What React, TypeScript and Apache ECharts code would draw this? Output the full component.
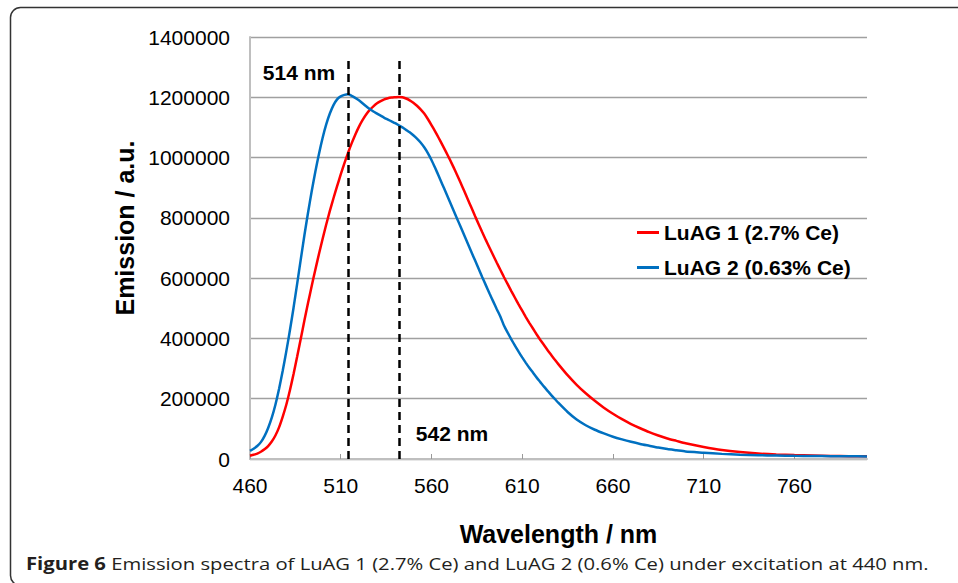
import React, { useEffect, useRef } from "react";
import * as echarts from "echarts";

// Wavelength grid (nm)
const wavelength = [
  460, 462, 464, 466, 468, 470, 472, 474, 476, 478, 480, 482, 484, 486, 488, 490, 492, 494, 496, 498,
  500, 502, 504, 506, 508, 510, 512, 514, 516, 518, 520, 522, 524, 526, 528, 530, 532, 534, 536, 538,
  540, 542, 544, 546, 548, 550, 552, 554, 556, 558, 560, 562, 564, 566, 568, 570, 572, 574, 576, 578,
  580, 582, 584, 586, 588, 590, 592, 594, 596, 598, 600, 602, 604, 606, 608, 610, 612, 614, 616, 618,
  620, 622, 624, 626, 628, 630,
  635, 640, 645, 650, 655, 660, 665, 670, 675, 680, 685, 690, 695, 700,
  710, 720, 730, 740, 750, 760, 770, 780, 790, 800,
];

// LuAG 1 (2.7% Ce) emission
const luag1 = [
  11000, 14000, 18000, 24000, 32000, 43000, 58000, 78000, 105000, 140000,
  180000, 228000, 282000, 340000, 400000, 460000, 518000, 574000, 628000, 680000,
  730000, 778000, 823000, 865000, 905000, 944000, 981000, 1015000, 1047000, 1076000,
  1102000, 1124000, 1143000, 1158000, 1170000, 1180000, 1187000, 1193000, 1197000, 1199000,
  1200000, 1201000, 1200000, 1196000, 1190000, 1182000, 1172000, 1160000, 1146000, 1128000,
  1108000, 1087000, 1065000, 1042000, 1019000, 995000, 970000, 944000, 917000, 890000,
  862000, 834000, 806000, 779000, 752000, 726000, 701000, 676000, 651000, 627000,
  603000, 580000, 557000, 535000, 513000, 492000, 471000, 451000, 432000, 413000,
  395000, 378000, 361000, 345000, 329000, 314000,
  278000, 246000, 218000, 193000, 170000, 150000, 132000, 116000, 102000, 89000, 78000, 68000, 60000, 52000,
  40000, 30000, 23000, 18000, 15000, 13000, 11500, 10000, 9500, 9000,
];

// LuAG 2 (0.63% Ce) emission
const luag2 = [
  27000, 34000, 43000, 56000, 76000, 103000, 137000, 180000, 232000, 292000,
  357000, 427000, 502000, 582000, 663000, 743000, 818000, 888000, 953000, 1012000,
  1065000, 1110000, 1146000, 1174000, 1193000, 1203000, 1208000, 1210000, 1205000, 1198000,
  1190000, 1180000, 1170000, 1161000, 1153000, 1146000, 1139000, 1132000, 1126000, 1120000,
  1114000, 1107000, 1100000, 1092000, 1084000, 1074000, 1063000, 1050000, 1034000, 1015000,
  992000, 966000, 939000, 911000, 883000, 855000, 827000, 799000, 771000, 743000,
  715000, 687000, 659000, 631000, 603000, 576000, 549000, 523000, 497000, 472000,
  442000, 419000, 397000, 376000, 356000, 337000, 319000, 302000, 286000, 270000,
  255000, 240000, 226000, 212000, 199000, 186000,
  156000, 131000, 112000, 97000, 85000, 74000, 65000, 57000, 50000, 44000, 38000, 33000, 29000, 25000,
  21000, 17000, 14500, 12500, 11500, 10500, 10000, 9500, 9000, 8500,
];

const seriesNames = ["LuAG 1 (2.7% Ce)", "LuAG 2 (0.63% Ce)"];
const seriesColors = ["#ff0000", "#0070c0"];
const peakWavelengths = [514, 542];
const peakLabels = ["514 nm", "542 nm"];
const peakLineTop = 1336000;
const xTitle = "Wavelength / nm";
const yTitle = "Emission / a.u.";
const captionBold = "Figure 6";
const captionRest =
  " Emission spectra of LuAG 1 (2.7% Ce) and LuAG 2 (0.6% Ce) under excitation at 440 nm.";

const FONT = "'Liberation Sans', Arial, Helvetica, sans-serif";
const CAPFONT = "'Open Sans', 'Noto Sans', sans-serif";

export default function App() {
  const ref = useRef<HTMLDivElement>(null);

  useEffect(() => {
    if (!ref.current) return;
    const chart = echarts.init(ref.current, null, { renderer: "svg" });

    const makeData = (vals: number[]) => wavelength.map((w, i) => [w, vals[i]]);

    const option: any = {
      animation: false,
      backgroundColor: "#ffffff",
      grid: { left: 250, right: 91, top: 37, bottom: 124, containLabel: false },
      legend: {
        orient: "vertical",
        left: 637,
        top: 222,
        padding: 0,
        itemGap: 14,
        itemWidth: 22,
        itemHeight: 3,
        icon: "rect",
        data: seriesNames,
        textStyle: { fontFamily: FONT, fontSize: 21, fontWeight: "bold", color: "#000" },
      },
      xAxis: {
        type: "value",
        min: 460,
        max: 800,
        interval: 50,
        name: xTitle,
        nameLocation: "middle",
        nameGap: 62,
        nameTextStyle: { fontFamily: FONT, fontSize: 25, fontWeight: "bold", color: "#000" },
        axisLine: { show: true, lineStyle: { color: "#bfbfbf", width: 2 } },
        axisTick: { show: true, inside: true, length: 5, lineStyle: { color: "#999", width: 1 } },
        axisLabel: {
          fontFamily: FONT,
          fontSize: 21,
          color: "#000",
          margin: 16,
          showMaxLabel: false,
        },
        splitLine: { show: false },
      },
      yAxis: {
        type: "value",
        min: 0,
        max: 1400000,
        interval: 200000,
        axisLine: { show: true, lineStyle: { color: "#bfbfbf", width: 2 } },
        axisTick: { show: false },
        axisLabel: {
          fontFamily: FONT,
          fontSize: 21,
          color: "#000",
          margin: 20,
          formatter: (v: number) => String(v),
        },
        splitLine: { show: true, lineStyle: { color: "#a0a0a0", width: 1.3 } },
      },
      series: [
        {
          name: seriesNames[0],
          type: "line",
          data: makeData(luag1),
          showSymbol: false,
          smooth: 0.2,
          color: seriesColors[0],
          lineStyle: { color: seriesColors[0], width: 2.5 },
          z: 2,
        },
        {
          name: seriesNames[1],
          type: "line",
          data: makeData(luag2),
          showSymbol: false,
          smooth: 0.2,
          color: seriesColors[1],
          lineStyle: { color: seriesColors[1], width: 2.5 },
          z: 3,
          markLine: {
            silent: true,
            symbol: ["none", "none"],
            label: { show: false },
            lineStyle: { color: "#000", width: 2.5, type: [8, 5] },
            data: peakWavelengths.map((p) => [
              { coord: [p, 0] },
              { coord: [p, peakLineTop] },
            ]),
          },
        },
      ],
      graphic: [
        {
          type: "rect",
          shape: { x: 10.5, y: 7.5, width: 1000, height: 578, r: 10 },
          style: { fill: "none", stroke: "#333", lineWidth: 1.5 },
          silent: true,
        },
        {
          type: "text",
          x: 125,
          y: 228,
          rotation: Math.PI / 2,
          style: {
            text: yTitle,
            fontFamily: FONT,
            fontSize: 25,
            fontWeight: "bold",
            fill: "#000",
            textAlign: "center",
            textVerticalAlign: "middle",
          },
        },
        {
          type: "text",
          x: 299,
          y: 72,
          style: {
            text: peakLabels[0],
            fontFamily: FONT,
            fontSize: 21,
            fontWeight: "bold",
            fill: "#000",
            textAlign: "center",
            textVerticalAlign: "middle",
          },
        },
        {
          type: "text",
          x: 452,
          y: 433,
          style: {
            text: peakLabels[1],
            fontFamily: FONT,
            fontSize: 21,
            fontWeight: "bold",
            fill: "#000",
            textAlign: "center",
            textVerticalAlign: "middle",
          },
        },
        {
          type: "text",
          x: 26,
          y: 563,
          scaleX: 1.19,
          style: {
            text: "{b|" + captionBold + "}" + captionRest,
            fontFamily: CAPFONT,
            fontSize: 17,
            fill: "#231f20",
            textAlign: "left",
            textVerticalAlign: "middle",
            rich: {
              b: {
                fontFamily: CAPFONT,
                fontSize: 17,
                fontWeight: "bold",
                fill: "#231f20",
              },
            },
          },
        },
      ],
    };

    chart.setOption(option);
    return () => chart.dispose();
  }, []);

  return (
    <div
      ref={ref}
      style={{ position: "fixed", left: 0, top: 0, width: 958, height: 583, background: "#fff" }}
    />
  );
}
